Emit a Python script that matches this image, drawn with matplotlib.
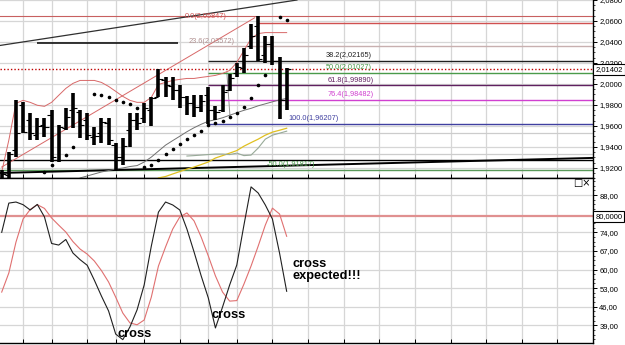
import numpy as np
import matplotlib
matplotlib.use("Agg")
import matplotlib.pyplot as plt
from matplotlib.ticker import FixedLocator, FuncFormatter

nan = np.nan
# ---------------- data: price panel (41 daily bars) ----------------
highs = [1.9178, 1.9349, 1.9843, 1.9824, 1.9720, 1.9672, 1.9672, 1.9748, 1.9606, 1.9767,
         1.9910, 1.9748, 1.9720, 1.9587, 1.9672, 1.9672, 1.9435, 1.9482, 1.9720, 1.9720,
         1.9815, 1.9872, 2.0138, 2.0062, 2.0062, 1.9986, 1.9881, 1.9891, 1.9891, 1.9967,
         1.9786, 1.9986, 2.0090, 2.0195, 2.0347, 2.0575, 2.0651, 2.0461, 2.0461, 2.0252,
         2.0147]
lows = [1.9055, 1.9084, 1.9302, 1.9530, 1.9463, 1.9463, 1.9492, 1.9254, 1.9254, 1.9558,
        1.9577, 1.9482, 1.9463, 1.9416, 1.9435, 1.9416, 1.9178, 1.9226, 1.9397, 1.9558,
        1.9625, 1.9596, 1.9872, 1.9872, 1.9843, 1.9767, 1.9701, 1.9682, 1.9729, 1.96207,
        1.9653, 1.9729, 1.9929, 2.0062, 2.0100, 2.0337, 2.0223, 2.0195, 2.0176, 1.9663,
        1.9748]
opens = [1.9084, 1.9131, 1.9368, 1.9796, 1.9653, 1.9511, 1.9606, 1.9701, 1.9273, 1.9577,
         1.9748, 1.9729, 1.9653, 1.9492, 1.9530, 1.9625, 1.9416, 1.9302, 1.9558, 1.9653,
         1.9672, 1.9748, 1.9872, 2.0033, 1.9976, 1.9938, 1.9872, 1.9815, 1.9777, 1.9891,
         1.9748, 1.9748, 1.9938, 2.0100, 2.0147, 2.0366, 2.0556, 2.0271, 2.0385, 2.0223,
         1.9843]
closes = [1.9140, 1.9330, 1.9530, 1.9539, 1.9530, 1.9596, 1.9587, 1.9302, 1.9587, 1.9682,
          1.9767, 1.9606, 1.9511, 1.9500, 1.9634, 1.9463, 1.9302, 1.9406, 1.9653, 1.9625,
          1.9767, 1.9862, 2.0043, 1.9986, 1.9938, 1.9872, 1.9815, 1.9777, 1.9834, 1.9748,
          1.9729, 1.9919, 2.0052, 2.0157, 2.0271, 2.0461, 2.0242, 2.0385, 2.0223, 1.9843,
          2.01402]
sar = [nan, nan, nan, nan, nan, nan, 1.9157, 1.9226, nan, 1.9321,
       1.9400, nan, nan, 1.9907, 1.9891, 1.9875, 1.9850, 1.9827, 1.9805, 1.9774,
       1.9210, 1.9226, 1.9273, 1.9330, 1.9375, 1.9425, 1.9470, 1.9511, 1.9549, 1.9606,
       1.9625, 1.9647, 1.9685, 1.9723, 1.9777, 1.9862, 1.9986, 2.0081, nan, 2.0641,
       2.0610]
upper_band = [1.9160, 1.9464, 1.9815, 1.9843, 1.9824, 1.9796, 1.9786, 1.9824, 1.9891, 1.9957,
              2.0005, 2.0033, 2.0033, 2.0033, 2.0014, 1.9976, 1.9929, 1.9881, 1.9843, 1.9824,
              1.9824, 1.9872, 1.9995, 2.0014, 2.0033, 2.0043, 2.0052, 2.0052, 2.0062, 2.0071,
              2.0081, 2.0100, 2.0128, 2.0204, 2.0318, 2.0432, 2.0480, 2.0489, 2.0489, 2.0489,
              2.0489]
lower_band = [nan, nan, nan, nan, nan, nan, nan, nan, nan, nan,
              nan, 1.9103, 1.9122, 1.9141, 1.9160, 1.9174, 1.9188, 1.9198, 1.9212, 1.9221,
              1.9255, 1.9302, 1.9359, 1.9416, 1.9459, 1.9501, 1.9544, 1.9582, 1.9615, 1.9644,
              1.9658, 1.9677, 1.9701, 1.9725, 1.9748, 1.9767, 1.9791, 1.9810, 1.9829, 1.9848,
              1.9862]
ma_yellow = [nan] * 22 + [1.9103, 1.9117, 1.9141, 1.9164, 1.9188, 1.9207, 1.9231, 1.9255,
                          1.9293, 1.9316, 1.9340, 1.9364, 1.9406, 1.9440, 1.9473, 1.9511,
                          1.9540, 1.9558, 1.9577]
ma_green = [nan] * 26 + [1.9312, 1.9316, 1.9321, 1.9326, 1.9331, 1.9331, 1.9326, 1.9340,
                         1.9316, 1.9321, 1.9388, 1.9473, 1.9511, 1.9530, 1.9549]

fib_labels = ["0.0(2,05847)", "23.6(2,03572)", "38.2(2,02165)", "50.0(2,01027)",
              "61.8(1,99890)", "76.4(1,98482)", "100.0(1,96207)", "-50.0(1,91817)"]
fib_prices = [2.05847, 2.03572, 2.02165, 2.01027, 1.99890, 1.98482, 1.96207, 1.91817]
last_price = 2.01402
resistance = 2.0647
support_flat = 1.9278
box_line = 2.0394
trend_top = [(0, 2.0369), (40, 2.0785)]
trend_red = [(0, 1.9207), (35.5, 2.0630)]
trend_low = [(0, 1.9151), (80, 1.9289)]
trend_gray = [(31.6, 2.0112), (32.05, 1.9685)]

# ---------------- data: stochastic panel ----------------
stoch_k = [74.0, 85.0, 85.4, 84.4, 82.4, 84.5, 79.8, 69.8, 69.2, 71.3,
           66.2, 63.7, 61.6, 56.0, 50.0, 44.4, 35.7, 33.6, 38.4, 44.8,
           54.2, 68.8, 81.6, 85.4, 84.3, 82.4, 75.2, 66.6, 57.6, 49.3,
           38.0, 45.9, 54.2, 61.7, 76.7, 91.1, 88.8, 84.3, 79.0, 66.2,
           51.8]
stoch_d = [51.5, 58.7, 70.3, 79.0, 82.6, 84.4, 83.0, 79.4, 76.7, 74.1,
           70.5, 67.7, 65.8, 63.2, 59.6, 55.3, 49.6, 43.6, 39.9, 39.2,
           41.0, 49.6, 61.3, 68.5, 75.2, 79.8, 81.3, 78.3, 72.2, 65.1,
           57.6, 51.5, 48.1, 48.3, 54.5, 61.3, 68.8, 76.7, 83.1, 80.9,
           72.5]
stoch_level = 80.0
stoch_ticks = [39, 46, 53, 60, 67, 74, 88]
price_ticks = [1.92, 1.94, 1.96, 1.98, 2.00, 2.02, 2.04, 2.06, 2.08]
grid_x = [3, 7, 12, 16, 20, 25, 29, 33, 38, 43, 48, 53, 58, 63, 68, 73, 78]

# ---------------- figure ----------------
W, H = 625, 345
fig = plt.figure(figsize=(W / 100, H / 100), dpi=100)
fig.patch.set_facecolor("white")
ax1 = fig.add_axes([0, 1 - 178.3 / H, 593 / W, 178.3 / H])
ax2 = fig.add_axes([0, 1 - 342.7 / H, 593 / W, (342.7 - 178.3) / H])

XL = (-0.24, 83.0)
TF = "Liberation Sans"
grid_c = "#d6d6d6"

def style(ax):
    ax.set_xlim(*XL)
    ax.set_facecolor("white")
    ax.spines["left"].set_visible(False)
    for s in ("right", "top", "bottom"):
        ax.spines[s].set_color("black")
        ax.spines[s].set_linewidth(1.0)
    ax.yaxis.tick_right()
    ax.tick_params(axis="y", which="major", direction="out", length=3, width=0.7,
                   pad=1.5, labelsize=5.5, colors="black")
    ax.tick_params(axis="y", which="minor", direction="out", length=1.5, width=0.5)
    ax.set_xticks(grid_x)
    ax.tick_params(axis="x", which="major", direction="in", length=3, width=0.7,
                   labelbottom=False, bottom=True)
    for lab in ax.get_yticklabels():
        lab.set_fontfamily(TF)
    ax.grid(True, color=grid_c, lw=0.9, zorder=0)
    ax.set_axisbelow(True)

# ----- price panel -----
ax1.set_ylim(1.90997, 2.0800)
ax1.yaxis.set_major_locator(FixedLocator(price_ticks))
ax1.yaxis.set_minor_locator(FixedLocator(np.arange(1.905, 2.081, 0.005)))
ax1.yaxis.set_major_formatter(FuncFormatter(lambda v, p: f"{v:.4f}".replace(".", ",")))
style(ax1)
ax1.spines["top"].set_visible(False)

x = np.arange(len(highs))
for lvl in (1.9533, 1.9330):
    ax1.axhline(lvl, color="#cccccc", lw=0.9, zorder=1)
ax1.axhline(resistance, color="#c86060", lw=0.8, zorder=2)
ax1.axhline(support_flat, color="black", lw=1.0, zorder=2)
ax1.axhline(fib_prices[7], color="#5a9a5a", lw=1.0, zorder=2)
ax1.hlines(box_line, 5, 24.8, color="black", lw=1.1, zorder=2)
ax1.axline(*trend_top, color="#303030", lw=0.9, zorder=2)
ax1.axline(*trend_low, color="black", lw=1.4, zorder=2)
ax1.plot([p[0] for p in trend_red], [p[1] for p in trend_red], color="#d86868", lw=0.7, zorder=2)
ax1.plot([p[0] for p in trend_gray], [p[1] for p in trend_gray], color="#909090", lw=0.7, zorder=2)

fib_colors = ["#d05050", "#c8b0b0", "#202020", "#4a9a4a", "#602060", "#d040d0", "#4040a0", "#4a9a4a"]
fib_start = [36, 29, 29, 29, 29, 29, 29, None]
for lvl, c, st in zip(fib_prices, fib_colors, fib_start):
    if st is not None:
        ax1.hlines(lvl, st, XL[1], color=c, lw=1.0, zorder=2)
ax1.axhline(last_price, color="#c00000", lw=1.0, ls=(0, (1, 1.5)), zorder=3)

ax1.plot(x, upper_band, color="#d86868", lw=0.7, zorder=3)
ax1.plot(x, lower_band, color="#707070", lw=0.7, zorder=3)
ax1.plot(x, ma_yellow, color="#e0c020", lw=0.9, zorder=3)
ax1.plot(x, ma_green, color="#98aa98", lw=0.8, zorder=3)

ax1.vlines(x, lows, highs, color="black", lw=2.6, zorder=4)
ax1.hlines(opens, x - 0.6, x, color="black", lw=0.8, zorder=4)
ax1.hlines(closes, x, x + 0.6, color="black", lw=0.8, zorder=4)
ax1.plot(x, sar, ls="none", marker="o", ms=1.6, color="black", zorder=5)

lab_pos = [(25.7, 2.0641), (26.2, 2.0404), (45.5, 2.0266), (45.5, 2.0152),
           (45.7, 2.0033), (45.7, 1.9896), (40.25, 1.9672), (37.2, 1.9231)]
for (lx, ly), t, c in zip(lab_pos, fib_labels, fib_colors):
    cc = "#b09090" if c == "#c8b0b0" else c
    ax1.text(lx, ly, t, fontsize=5.3, family=TF, color=cc, va="center", ha="left", zorder=6)

ax1.text(1.004, last_price, "2,01402", transform=ax1.get_yaxis_transform(), fontsize=5.5,
         family=TF, va="center", ha="left", zorder=10, clip_on=False,
         bbox=dict(boxstyle="square,pad=0.25", fc="white", ec="black", lw=0.8))

# ----- stochastic panel -----
ax2.set_ylim(32.45, 94.33)
ax2.yaxis.set_major_locator(FixedLocator(stoch_ticks))
ax2.yaxis.set_minor_locator(FixedLocator(np.arange(32, 95, 1.75)))
ax2.yaxis.set_major_formatter(FuncFormatter(lambda v, p: f"{v:.2f}".replace(".", ",")))
style(ax2)

xs = np.arange(len(stoch_k))
ax2.axhline(stoch_level, color="#e09090", lw=1.6, zorder=2)
ax2.plot(xs, stoch_d, color="#e07070", lw=0.8, zorder=3)
ax2.plot(xs, stoch_k, color="#202020", lw=0.8, zorder=4)

ax2.text(1.004, stoch_level, "80,0000", transform=ax2.get_yaxis_transform(), fontsize=5.5,
         family=TF, va="center", ha="left", zorder=10, clip_on=False,
         bbox=dict(boxstyle="square,pad=0.25", fc="white", ec="black", lw=0.8))
ax2.text(81.4, 92.4, "\u25a1\u00d7", fontsize=7, family="DejaVu Sans", ha="center",
         va="center", color="black", zorder=6)

bold = dict(family=TF, fontweight="bold", fontsize=9.2, color="black", zorder=6)
ax2.text(16.2, 34.6, "cross", va="baseline", ha="left", **bold)
ax2.text(29.5, 41.7, "cross", va="baseline", ha="left", **bold)
ax2.text(40.75, 60.9, "cross", va="baseline", ha="left", **bold)
ax2.text(40.75, 56.6, "expected!!!", va="baseline", ha="left", **bold)

fig.savefig("out.png", dpi=100, facecolor="white")
